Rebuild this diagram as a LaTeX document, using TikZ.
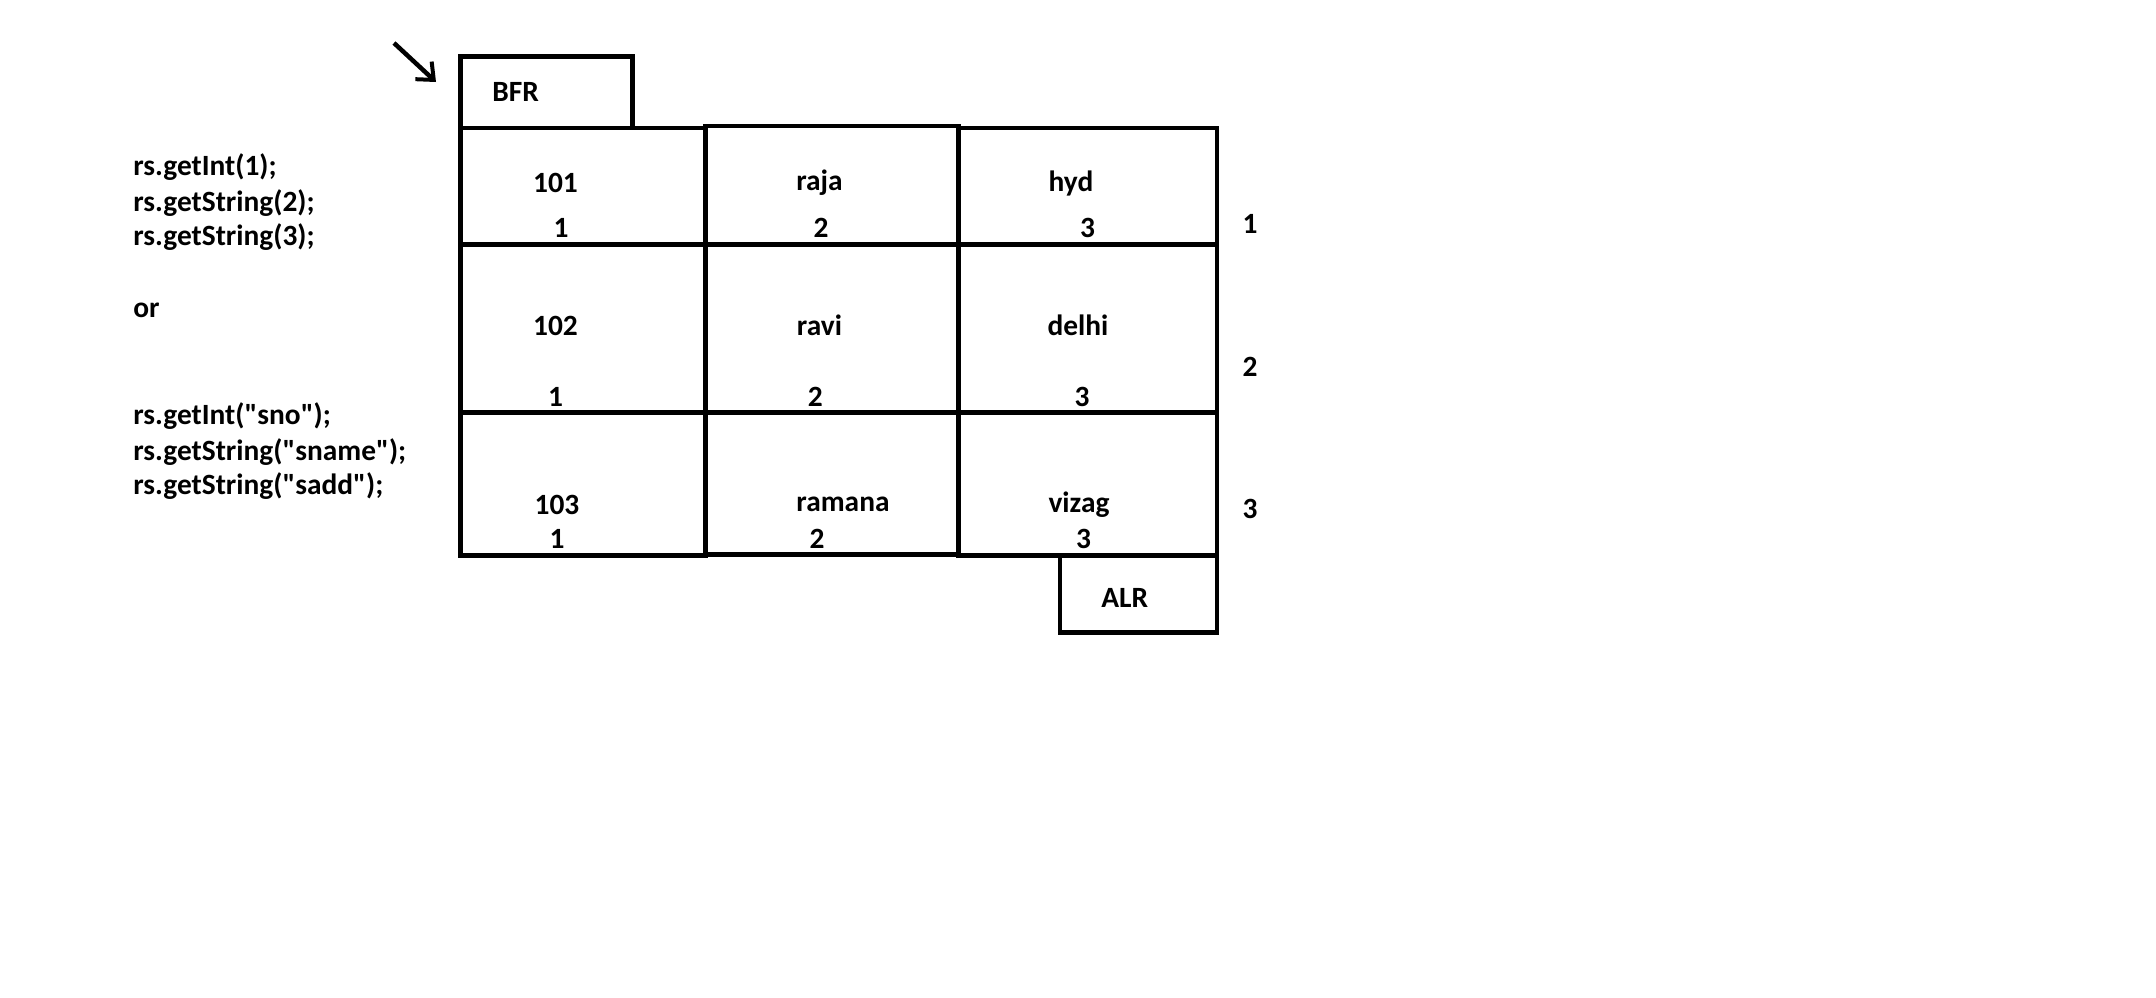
\documentclass[tikz,border=0pt]{standalone}
\usepackage{fontspec}
\setmainfont{Carlito}
\usetikzlibrary{arrows.meta}
\newcommand{\qq}{\textquotedbl}
\begin{document}
\begin{tikzpicture}[x=0.5pt,y=-0.5pt,
  txt/.style={inner sep=0pt, font=\fontsize{14.7}{17.8}\selectfont\bfseries},
  cell/.style={draw, line width=2.25pt, inner sep=0pt},
  arr/.style={line width=2.25pt, -{Straight Barb[length=7pt,width=12pt,line width=2pt]}}]
\useasboundingbox (0,0) rectangle (2156,997);
% BFR and ALR boxes
\node[cell, minimum width=86pt, minimum height=35.8pt] (bfr) at (546.5,92.2) {};
\node[txt] (bfrt) at (515.6,92) {BFR};
\node[cell, minimum width=78.5pt, minimum height=38.5pt] (alr) at (1138.5,594) {};
\node[txt] (alrt) at (1124.7,598) {ALR};
% table cells
\node[cell, minimum width=122.4pt, minimum height=58.4pt] (c11) at (583,186.4) {};
\node[cell, minimum width=126.5pt, minimum height=59.4pt] (c12) at (832,185.6) {};
\node[cell, minimum width=129.25pt, minimum height=58.4pt] (c13) at (1087.6,186.4) {};
\node[cell, minimum width=122.4pt, minimum height=83.9pt] (c21) at (583,328.6) {};
\node[cell, minimum width=126.5pt, minimum height=83.9pt] (c22) at (832,328.6) {};
\node[cell, minimum width=129.25pt, minimum height=83.9pt] (c23) at (1087.6,328.6) {};
\node[cell, minimum width=122.4pt, minimum height=71.5pt] (c31) at (583,484) {};
\node[cell, minimum width=126.5pt, minimum height=71pt] (c32) at (832,483.3) {};
\node[cell, minimum width=129.25pt, minimum height=71.5pt] (c33) at (1087.6,484) {};
% cell texts
\node[txt] (v11) at (555.5,183) {101};
\node[txt] (n11) at (561,228) {1};
\node[txt] (v12) at (819.5,183) {raja};
\node[txt] (n12) at (821,228) {2};
\node[txt] (v13) at (1071,183) {hyd};
\node[txt] (n13) at (1087.6,228) {3};
\node[txt] (v21) at (555.5,325.5) {102};
\node[txt] (n21) at (555.5,397) {1};
\node[txt] (v22) at (819.5,325.5) {ravi};
\node[txt] (n22) at (815.4,397) {2};
\node[txt] (v23) at (1078,325.5) {delhi};
\node[txt] (n23) at (1082,397) {3};
\node[txt] (v31) at (557,504.5) {103};
\node[txt] (n31) at (557,539) {1};
\node[txt] (v32) at (843,504.5) {ramana};
\node[txt] (n32) at (817,539) {2};
\node[txt] (v33) at (1079,504.5) {vizag};
\node[txt] (n33) at (1083.5,539) {3};
% row numbers
\node[txt] (r1) at (1250,224) {1};
\node[txt] (r2) at (1250,367) {2};
\node[txt] (r3) at (1250,509) {3};
% left text
\node[txt, anchor=west] (l1) at (133,167) {rs.getInt(1);};
\node[txt, anchor=west] (l2) at (133,202.7) {rs.getString(2);};
\node[txt, anchor=west] (l3) at (133,237.5) {rs.getString(3);};
\node[txt, anchor=west] (lor) at (133,310) {or};
\node[txt, anchor=west] (l4) at (133,416) {rs.getInt(\qq sno\qq);};
\node[txt, anchor=west] (l5) at (133,451.6) {rs.getString(\qq sname\qq);};
\node[txt, anchor=west] (l6) at (133,486) {rs.getString(\qq sadd\qq);};
% arrow
\coordinate (as) at (394,43);
\coordinate (ae) at (436,82);
\draw[arr] (as) -- (ae);
\end{tikzpicture}
\end{document}
